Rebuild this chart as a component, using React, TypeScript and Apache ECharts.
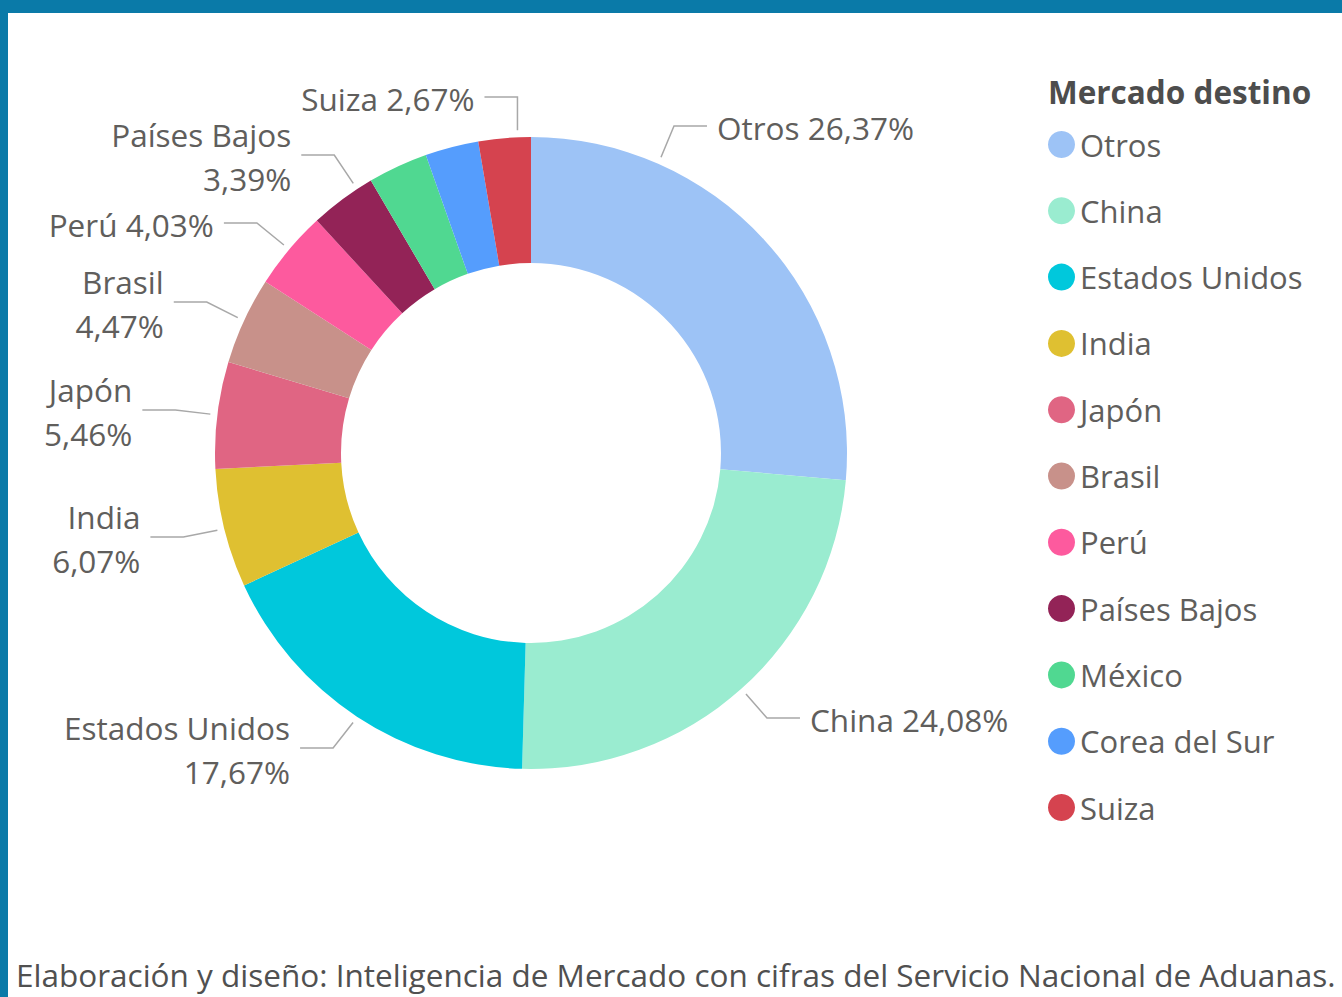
import React, { useEffect, useRef } from "react";
import * as echarts from "echarts";

const categories = [
  "Otros",
  "China",
  "Estados Unidos",
  "India",
  "Japón",
  "Brasil",
  "Perú",
  "Países Bajos",
  "México",
  "Corea del Sur",
  "Suiza",
];
const shares = [26.37, 24.08, 17.67, 6.07, 5.46, 4.47, 4.03, 3.39, 3.06, 2.73, 2.67];
const colors = [
  "#9dc3f6",
  "#9aecd0",
  "#00c8dc",
  "#dfc031",
  "#e06583",
  "#c8918a",
  "#fd5a9e",
  "#932357",
  "#50d891",
  "#559dfd",
  "#d5434f",
];
const showLabel = [true, true, true, true, true, true, true, true, false, false, true];
const twoLine = [false, false, true, true, true, true, false, true, false, false, false];

// label layout (leader-line anchor within slice, leader-line height, elbow width)
const anchorFrac = [0.25, 0.5, 0.5, 0.5, 0.5, 0.5, 0.5, 0.76, 0.5, 0.5, 0.75];
const lineY = [126, 718, 748, 537, 410, 302, 223, 155, 0, 0, 97];
const elbowDx = [13, 21, 20, 34, 35, 31, 27, 19, 0, 0, 0];

const legendTitle = "Mercado destino";
const footer = "Elaboración y diseño: Inteligencia de Mercado con cifras del Servicio Nacional de Aduanas.";

const FONT = "'Open Sans', 'Noto Sans', sans-serif";
const fmt = (v: number) => v.toFixed(2).replace(".", ",") + "%";

const CX = 531;
const CY = 453;
const R_IN = 190;
const R_OUT = 316;

export default function App() {
  const ref = useRef<HTMLDivElement>(null);
  useEffect(() => {
    document.body.style.margin = "0";
    if (!ref.current) return;
    const chart = echarts.init(ref.current, undefined, { renderer: "svg" });
    const total = shares.reduce((a, b) => a + b, 0);
    const cumStart: number[] = [];
    shares.reduce((acc, v, i) => {
      cumStart[i] = acc;
      return acc + v;
    }, 0);

    const data = categories.map((name, i) => ({
      name,
      value: shares[i],
      itemStyle: { color: colors[i] },
      label: { show: showLabel[i] },
      labelLine: { show: showLabel[i] },
    }));

    chart.setOption({
      animation: false,
      backgroundColor: "#ffffff",
      title: {
        text: legendTitle,
        left: 1043,
        top: 70,
        textStyle: { fontFamily: FONT, fontSize: 31.5, fontWeight: "bold", color: "#4d4d4d" },
      },
      legend: {
        orient: "vertical",
        left: 1043,
        top: 124,
        icon: "circle",
        itemWidth: 27,
        itemHeight: 27,
        itemGap: 35.3,
        textStyle: { fontFamily: FONT, fontSize: 31, color: "#605e5c", lineHeight: 30 },
        data: categories,
      },
      graphic: [
        {
          type: "text",
          left: 16,
          bottom: 4,
          style: { text: footer, fontFamily: FONT, fontSize: 31.5, lineHeight: 38, fill: "#505050" },
        },
      ],
      series: [
        {
          type: "pie",
          center: [CX, CY],
          radius: [R_IN, R_OUT],
          startAngle: 90,
          clockwise: true,
          avoidLabelOverlap: false,
          label: {
            show: true,
            position: "outside",
            fontFamily: FONT,
            fontSize: 31.5,
            color: "#605e5c",
            lineHeight: 44,
            formatter: (p: any) =>
              twoLine[p.dataIndex] ? `${p.name}\n${fmt(p.value)}` : `${p.name} ${fmt(p.value)}`,
          },
          labelLine: {
            show: true,
            length: 30,
            length2: 35,
            lineStyle: { color: "#a8a8a8", width: 1.5 },
          },
          labelLayout: (params: any) => {
            const i = params.dataIndex;
            if (!showLabel[i]) return {};
            const theta = ((cumStart[i] + anchorFrac[i] * shares[i]) / total) * Math.PI * 2;
            const r = R_OUT + 7;
            const p0 = [CX + r * Math.sin(theta), CY - r * Math.cos(theta)];
            const side = Math.sin(theta) >= 0 ? 1 : -1;
            const ly = lineY[i];
            const p1 = [p0[0] + side * elbowDx[i], ly];
            const p2 = [p1[0] + side * 33, ly];
            return {
              x: p2[0] + side * 10,
              y: ly + 1,
              align: side > 0 ? "left" : "right",
              verticalAlign: "middle",
              labelLinePoints: [p0, p1, p2],
            };
          },
          data,
        },
      ],
    });
    return () => chart.dispose();
  }, []);
  return (
    <div style={{ position: "fixed", left: 0, top: 0, width: 1342, height: 997, background: "#fff", overflow: "hidden" }}>
      <div ref={ref} style={{ position: "absolute", left: 0, top: 0, width: 1342, height: 997 }} />
      <div style={{ position: "absolute", left: 0, top: 0, width: 1342, height: 13, background: "#0a7aa8" }} />
      <div style={{ position: "absolute", left: 0, top: 0, width: 8, height: 997, background: "#0a7aa8" }} />
    </div>
  );
}
